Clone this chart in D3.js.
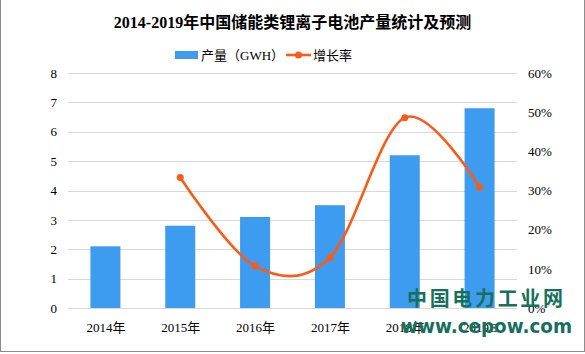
<!DOCTYPE html>
<html>
<head>
<meta charset="utf-8">
<script src="https://cdn.jsdelivr.net/npm/d3@7"></script>
<style>
  body { margin: 0; background: #fff; }
  svg { display: block; }
</style>
</head>
<body>
<svg id="chart"></svg>
<script>
// data
const years = ['2014年', '2015年', '2016年', '2017年', '2018年', '2019E'];
const output = [2.1, 2.8, 3.1, 3.5, 5.2, 6.8];           // GWH
const growth = [null, 33.3, 10.7, 12.9, 48.6, 30.8];     // %
const leftTicks = [0, 1, 2, 3, 4, 5, 6, 7, 8];
const rightTicks = [0, 10, 20, 30, 40, 50, 60];

const width = 585, height = 354;
const margin = {top: 73, right: 68, bottom: 46, left: 68};

const svg = d3.select('#chart')
    .attr('width', width)
    .attr('height', height);

// frame lines at left / bottom like the screenshot
svg.append('rect')
    .attr('x', 0.5).attr('y', -1)
    .attr('width', width - 1).attr('height', height - 1.5)
    .attr('fill', 'none').attr('stroke', '#8c8c8c');

const innerW = width - margin.left - margin.right;
const innerH = height - margin.top - margin.bottom;

const chart = svg.append('g')
    .attr('transform', `translate(${margin.left},${margin.top})`);

const xc = d3.scalePoint().domain(years).range([0, innerW]).padding(0.5);
const yL = d3.scaleLinear().domain([0, 8]).range([innerH, 0]);
const yR = d3.scaleLinear().domain([0, 60]).range([innerH, 0]);

// gridlines
chart.append('g')
    .selectAll('line')
    .data(leftTicks)
    .join('line')
    .attr('x1', 0).attr('x2', innerW)
    .attr('y1', d => Math.round(yL(d)) + 0.5)
    .attr('y2', d => Math.round(yL(d)) + 0.5)
    .attr('stroke', '#d9d9d9');

// bars
chart.append('g')
    .selectAll('rect')
    .data(output)
    .join('rect')
    .attr('x', (d, i) => xc(years[i]) - 15)
    .attr('width', 30)
    .attr('y', d => yL(d))
    .attr('height', d => innerH - yL(d))
    .attr('fill', '#3e9cf0');

// growth line
const pts = growth.map((g, i) => ({k: years[i], v: g})).filter(d => d.v != null);
const line = d3.line()
    .x(d => xc(d.k))
    .y(d => yR(d.v))
    .curve(d3.curveCardinal.tension(0));

chart.append('path')
    .datum(pts)
    .attr('d', line)
    .attr('fill', 'none')
    .attr('stroke', '#fc5b17')
    .attr('stroke-width', 2.6);

chart.append('g')
    .selectAll('circle')
    .data(pts)
    .join('circle')
    .attr('cx', d => xc(d.k))
    .attr('cy', d => yR(d.v))
    .attr('r', 3.5)
    .attr('fill', '#fc5b17');

// axes
const fontAxis = '"Liberation Serif", "DejaVu Serif", serif';

const yAxisL = d3.axisLeft(yL).tickValues(leftTicks).tickSize(0).tickPadding(11);
chart.append('g').call(yAxisL)
    .call(g => g.select('.domain').remove())
    .selectAll('text')
    .attr('font-family', fontAxis).attr('font-size', 13).attr('fill', '#000');

const yAxisR = d3.axisRight(yR).tickValues(rightTicks).tickSize(0).tickPadding(11)
    .tickFormat(d => d + '%');
chart.append('g').attr('transform', `translate(${innerW},0)`).call(yAxisR)
    .call(g => g.select('.domain').remove())
    .selectAll('text')
    .attr('font-family', fontAxis).attr('font-size', 13).attr('fill', '#000');

const xAxis = d3.axisBottom(xc).tickSize(0).tickPadding(15);
chart.append('g').attr('transform', `translate(0,${innerH})`).call(xAxis)
    .call(g => g.select('.domain').remove())
    .selectAll('text')
    .attr('font-family', '"Liberation Serif", "Noto Sans CJK SC", serif')
    .attr('font-size', 13).attr('fill', '#000');

// title
svg.append('text')
    .attr('x', width / 2).attr('y', 28)
    .attr('text-anchor', 'middle')
    .attr('font-family', '"Liberation Serif", "Noto Sans CJK SC", serif')
    .attr('font-weight', 'bold')
    .attr('font-size', 16)
    .text('2014-2019年中国储能类锂离子电池产量统计及预测');

// legend
const lg = svg.append('g').attr('font-family', '"Liberation Serif", "Noto Sans CJK SC", serif')
    .attr('font-size', 13);
lg.append('rect').attr('x', 175).attr('y', 51).attr('width', 23).attr('height', 8).attr('fill', '#3e9cf0');
lg.append('text').attr('x', 201).attr('y', 60).text('产量（GWH）');
lg.append('line').attr('x1', 286).attr('x2', 311).attr('y1', 55).attr('y2', 55)
    .attr('stroke', '#fc5b17').attr('stroke-width', 2.6);
lg.append('circle').attr('cx', 298.5).attr('cy', 55).attr('r', 3.5).attr('fill', '#fc5b17');
lg.append('text').attr('x', 313).attr('y', 60).text('增长率');

// source watermark
const wm = svg.append('g').attr('fill', '#17705c').attr('font-weight', 'bold')
    .attr('font-family', '"Noto Sans CJK SC", "DejaVu Sans", sans-serif');
wm.append('text').attr('x', 407).attr('y', 306)
    .attr('font-size', 20).attr('textLength', 156).attr('lengthAdjust', 'spacing')
    .text('中国电力工业网');
wm.append('text').attr('x', 401).attr('y', 333)
    .attr('font-family', '"DejaVu Sans", sans-serif')
    .attr('font-size', 19).attr('textLength', 171).attr('lengthAdjust', 'spacingAndGlyphs')
    .text('www.cepow.com');
</script>
</body>
</html>
